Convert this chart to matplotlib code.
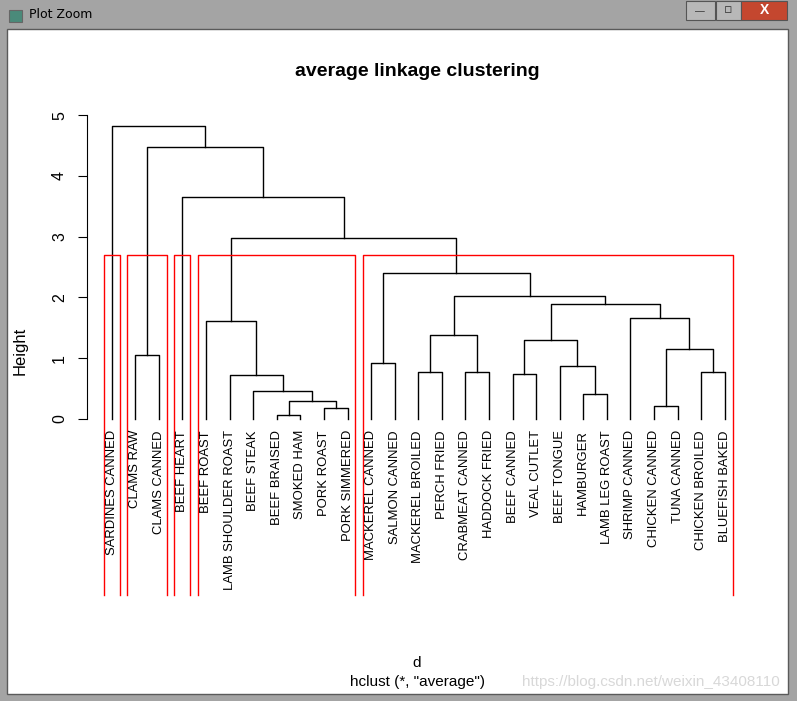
import matplotlib.pyplot as plt
from matplotlib.patches import Rectangle

plt.rcParams['font.family'] = ['Liberation Sans', 'DejaVu Sans']

# leaf labels in dendrogram order
labels = ['SARDINES CANNED', 'CLAMS RAW', 'CLAMS CANNED', 'BEEF HEART', 'BEEF ROAST',
          'LAMB SHOULDER ROAST', 'BEEF STEAK', 'BEEF BRAISED', 'SMOKED HAM', 'PORK ROAST',
          'PORK SIMMERED', 'MACKEREL CANNED', 'SALMON CANNED', 'MACKEREL BROILED',
          'PERCH FRIED', 'CRABMEAT CANNED', 'HADDOCK FRIED', 'BEEF CANNED', 'VEAL CUTLET',
          'BEEF TONGUE', 'HAMBURGER', 'LAMB LEG ROAST', 'SHRIMP CANNED', 'CHICKEN CANNED',
          'TUNA CANNED', 'CHICKEN BROILED', 'BLUEFISH BAKED']

# hclust style merge table: negative = leaf (1-based), positive = earlier merge
merge_a = [-8, -10, -24, 1, -21, -7, -6, -18, -14, -16, -26, -20, -12, -2,
           3, 8, 9, -5, -23, 16, 17, 13, 18, -4, 14, -1]
merge_b = [-9, -11, -25, 2, -22, 4, 6, -19, -15, -17, -27, 5, -13, -3,
           11, 12, 10, 7, 15, 19, 20, 21, 22, 23, 24, 25]
heights = [0.066, 0.175, 0.21, 0.29, 0.41, 0.455, 0.73, 0.735, 0.77, 0.78, 0.78,
           0.88, 0.93, 1.05, 1.16, 1.30, 1.39, 1.61, 1.67, 1.89, 2.02, 2.41, 2.98,
           3.66, 4.48, 4.82]
k_groups = 5

W, H = 797, 701
fig = plt.figure(figsize=(W / 100, H / 100), dpi=100)
fig.patch.set_facecolor('#a4a4a4')

# window frame
fig.patches.append(Rectangle((7 / W, 7 / H), 781 / W, 665 / H, transform=fig.transFigure,
                             facecolor='white', edgecolor='#5a5a5a', lw=1, zorder=-5))
fig.patches.append(Rectangle((9 / W, 1 - 22 / H), 13 / W, 12 / H, transform=fig.transFigure,
                             facecolor='#4a8a7a', edgecolor='#666666', lw=0.8, zorder=-5))
fig.text(29 / W, 1 - 15 / H, 'Plot Zoom', fontsize=9, va='center', ha='left',
         family='DejaVu Sans')
for x0, w, c in [(686, 29, '#b8b8b8'), (716, 25, '#b8b8b8'), (741, 46, '#c4472f')]:
    fig.patches.append(Rectangle((x0 / W, 1 - 20 / H), w / W, 19 / H, transform=fig.transFigure,
                                 facecolor=c, edgecolor='#555555', lw=0.8, zorder=-5))
fig.text(700 / W, 1 - 11 / H, '—', fontsize=7, ha='center', va='center', color='#333333')
fig.text(728 / W, 1 - 10 / H, '▫', fontsize=9, ha='center', va='center', color='#333333',
         family='DejaVu Sans')
fig.text(764 / W, 1 - 10 / H, 'X', fontsize=10, ha='center', va='center', color='white',
         weight='bold')

ax = fig.add_axes([87.2 / W, (H - 595) / H, 662.1 / W, 487 / H])
ax.set_xlim(-1.04, 27.04)
ax.set_ylim(-2.895, 5.117)
ax.patch.set_alpha(0)

pos = {}


def node_xy(ref):
    if ref < 0:
        return -ref - 1, 0.0
    return pos[ref]


for i, (a, b) in enumerate(zip(merge_a, merge_b)):
    h = heights[i]
    xa, ha = node_xy(a)
    xb, hb = node_xy(b)
    ax.plot([xa, xa, xb, xb], [ha, h, h, hb], color='black', lw=1)
    pos[i + 1] = ((xa + xb) / 2, h)


def leaves(ref):
    if ref < 0:
        return [-ref - 1]
    return leaves(merge_a[ref - 1]) + leaves(merge_b[ref - 1])


# cut into k groups and draw rectangles like rect.hclust
cut_top = (heights[-k_groups] + heights[-k_groups + 1]) / 2
groups = [len(heights)]
while len(groups) < k_groups:
    top = max(g for g in groups if g > 0)
    groups.remove(top)
    groups += [merge_a[top - 1], merge_b[top - 1]]
for g in groups:
    lv = leaves(g)
    x0, x1 = min(lv) - 0.34, max(lv) + 0.33
    ax.plot([x0, x0, x1, x1], [-2.895, cut_top, cut_top, -2.895], color='red', lw=1,
            clip_on=False)

for i, lab in enumerate(labels):
    ax.annotate(lab, (i, 0), xytext=(0, -11), textcoords='offset pixels', rotation=90,
                ha='center', va='top', fontsize=9.4)

for s in ['top', 'right', 'bottom']:
    ax.spines[s].set_visible(False)
ax.spines['left'].set_bounds(0, 5)
ax.set_xticks([])
ax.set_yticks(range(6))
ax.tick_params(axis='y', length=6.5, pad=8, labelsize=11.5, labelrotation=90)
for t in ax.get_yticklabels():
    t.set_va('center')

fig.text(20 / W, 1 - 351 / H, 'Height', rotation=90, ha='center', va='center', fontsize=12)
fig.text(417 / W, 1 - 71 / H, 'average linkage clustering', ha='center', va='center',
         fontsize=14, weight='bold')
fig.text(417 / W, 1 - 663 / H, 'd', ha='center', va='center', fontsize=11)
fig.text(417 / W, 1 - 682 / H, 'hclust (*, "average")', ha='center', va='center', fontsize=11)
fig.text(651 / W, 1 - 682 / H, 'https://blog.csdn.net/weixin_43408110', ha='center',
         va='center', fontsize=11, color='#d8d8d8')

fig.savefig('out.png', dpi=100)
